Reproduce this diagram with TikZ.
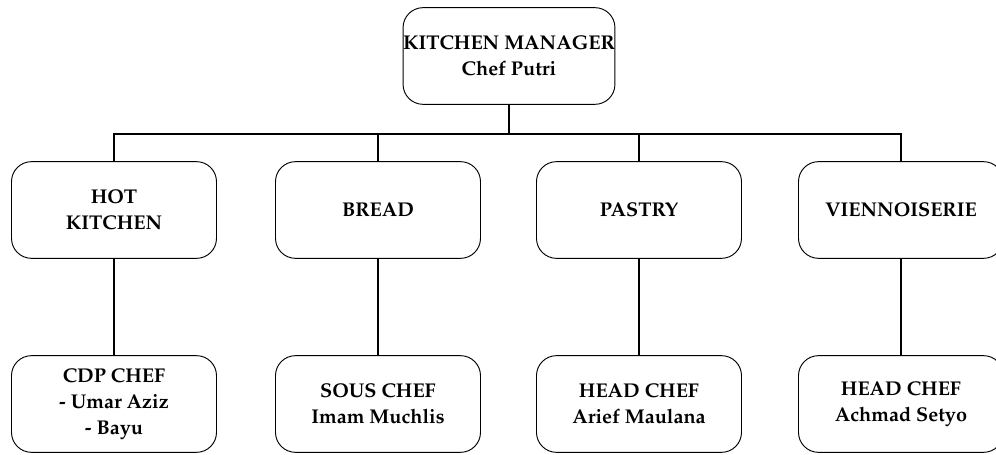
\documentclass[tikz,border=0pt]{standalone}
\usepackage[T1]{fontenc}
\usepackage{mathpazo}
\usepackage{tikz}

\tikzset{
  chefbox/.style={draw,rounded corners=0.6cm,line width=0.8pt,align=center,
    minimum width=6.15cm,minimum height=2.9cm,inner sep=0pt,
    font=\fontsize{17}{22}\selectfont\bfseries},
  orgline/.style={line width=1.6pt}
}

\begin{document}
\begin{tikzpicture}[x=0.03cm,y=-0.03cm]
\useasboundingbox (0,0) rectangle (996,455);
% top
\node[chefbox] (mgr) at (509,56) {KITCHEN MANAGER\\Chef Putri};
% sections
\node[chefbox] (hot) at (114,210) {HOT\\KITCHEN};
\node[chefbox] (bread) at (378,210) {BREAD};
\node[chefbox] (pastry) at (639,210) {PASTRY};
\node[chefbox] (vienn) at (901,210) {VIENNOISERIE};
% chefs
\node[chefbox] (cdp) at (114,404) {CDP CHEF\\- Umar Aziz\\- Bayu};
\node[chefbox] (sous) at (378,404) {SOUS CHEF\\Imam Muchlis};
\node[chefbox] (headp) at (639,404) {HEAD CHEF\\Arief Maulana};
\node[chefbox] (headv) at (901,404) {HEAD CHEF\\Achmad Setyo};
% lines
\coordinate (bar) at (509,134);
\draw[orgline] (mgr.south) -- (bar);
\draw[orgline] (hot.north) |- (bar) -| (vienn.north);
\draw[orgline] (bread.north) -- (bread.north |- bar);
\draw[orgline] (pastry.north) -- (pastry.north |- bar);
\draw[orgline] (hot) -- (cdp);
\draw[orgline] (bread) -- (sous);
\draw[orgline] (pastry) -- (headp);
\draw[orgline] (vienn) -- (headv);
\end{tikzpicture}
\end{document}
